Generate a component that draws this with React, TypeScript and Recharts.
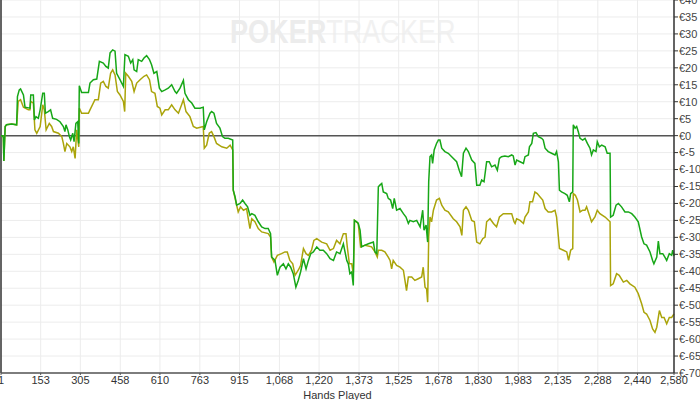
import React from "react";
import {
  LineChart, Line, XAxis, YAxis, CartesianGrid, ReferenceLine
} from "recharts";

// [hand, euros]
const netWon: [number, number][] = [
  [1, 0], [7, 0], [10, -0.5], [12, -7.5], [17, 2.7], [22, 3.2], [42, 3.4], [61, 3.2],
  [64, 11.5], [71, 13.5], [76, 13.8], [87, 12], [93, 8.4], [112, 8.1], [115, 12], [125, 12],
  [129, 4.6], [135, 5.6], [144, 5.1], [151, 7.6], [161, 12.5], [167, 12.5], [171, 6.6],
  [182, 7.1], [191, 7.6], [199, 5.1], [214, 4.8], [227, 4.1], [240, 2.7], [246, 1.2],
  [250, 3.2], [257, 1.7], [263, -0.3], [268, -1.3], [276, 0.7], [281, -1.8], [288, 3.6],
  [295, 4.1], [299, -2.3], [301, 14.7], [310, 12.7], [336, 12.7], [342, 15.5], [355, 16.5],
  [368, 16.7], [378, 21.9], [393, 21.4], [403, 20.4], [412, 19.9], [419, 24.4], [429, 25.3],
  [438, 24.9], [444, 18.4], [457, 16.5], [470, 14.5], [476, 23.9], [489, 23.4], [498, 21.4],
  [506, 22.4], [511, 19.4], [521, 18.9], [527, 22.4], [540, 21.9], [549, 22.9], [559, 23.6],
  [570, 22.4], [578, 20.9], [587, 18.4], [598, 18.9], [608, 14], [617, 13], [630, 13.5],
  [642, 14], [655, 15], [668, 13], [674, 12.5], [687, 14], [700, 16.3], [706, 12.5],
  [719, 10.6], [732, 9.6], [744, 8.1], [764, 8.1], [776, 8.4], [780, 1.7], [789, 4.1],
  [802, 6.6], [808, 7.1], [817, 6.6], [827, 3.6], [840, 2.2], [850, -0.3], [859, -0.8],
  [872, -0.8], [889, -1.3], [891, -16.1], [898, -18], [904, -20.5], [917, -20], [927, -19],
  [936, -20], [946, -21], [955, -23.5], [962, -23], [974, -23.5], [987, -25.4], [1000, -26.9],
  [1013, -27.4], [1025, -27.4], [1034, -28.9], [1038, -35.8], [1051, -36.8], [1060, -41.2],
  [1070, -38.8], [1083, -37.8], [1093, -39.3], [1102, -37.8], [1111, -38.8], [1121, -40.7],
  [1131, -44.7], [1140, -42.7], [1149, -40.2], [1160, -36.3], [1170, -39.3], [1179, -36.8],
  [1188, -34.8], [1198, -34.3], [1211, -32.8], [1223, -33.8], [1236, -33.8], [1249, -34.8],
  [1262, -36.3], [1275, -36.8], [1287, -34.3], [1300, -34.8], [1313, -31.9], [1326, -36.8],
  [1332, -37.8], [1338, -40.7], [1345, -40.2], [1351, -44.2], [1355, -25], [1364, -25.4],
  [1370, -25.9], [1377, -27.9], [1383, -32.8], [1396, -32.3], [1409, -31.9], [1428, -31.4],
  [1434, -34.3], [1441, -34.8], [1447, -15.1], [1453, -14.6], [1460, -14.1], [1466, -16.6],
  [1479, -17.1], [1485, -18.5], [1494, -19], [1502, -21.5], [1508, -18.5], [1517, -22],
  [1530, -21.5], [1543, -23], [1553, -24], [1562, -25.9], [1568, -25], [1581, -25.4],
  [1594, -25], [1607, -26.9], [1617, -22], [1622, -27.9], [1630, -26.4], [1636, -31.4],
  [1640, -13.6], [1645, -6.2], [1651, -5.7], [1655, -8.2], [1661, -4.2], [1670, -2.3],
  [1677, -1.3], [1683, -1.3], [1690, -3.7], [1702, -4.7], [1715, -5.2], [1728, -6.2],
  [1747, -7.7], [1757, -10.2], [1766, -12.1], [1773, -5.2], [1783, -3.7], [1792, -4.7],
  [1805, -7.2], [1817, -8.2], [1824, -14.6], [1836, -14.6], [1843, -13.1], [1852, -13.6],
  [1862, -7.7], [1872, -7.7], [1881, -9.2], [1894, -8.7], [1903, -10.2], [1911, -6.7],
  [1919, -6.2], [1932, -6], [1945, -6.2], [1958, -5.7], [1964, -6], [1971, -8.7],
  [1977, -7.2], [1990, -7.7], [2003, -8.2], [2009, -6.2], [2022, -5.7], [2026, -3.3],
  [2035, -2.3], [2041, 0.7], [2051, 0.9], [2060, -0.3], [2073, -0.8], [2079, -1.3],
  [2086, -3.7], [2098, -4.7], [2111, -5.2], [2124, -5.7], [2130, -4.7], [2137, -7.7],
  [2141, -16.1], [2149, -16.6], [2162, -17.1], [2171, -17.6], [2179, -19.5], [2184, -17.1],
  [2192, -16.6], [2194, 3.2], [2201, 2.2], [2207, 2.7], [2213, 1.2], [2220, -0.8],
  [2230, -1.3], [2239, -0.8], [2248, -2.3], [2258, -3.7], [2264, -5.7], [2271, -4.2],
  [2281, -4.7], [2286, -1.8], [2294, -3.3], [2303, -2.8], [2316, -3.3], [2324, -5.2],
  [2335, -5.2], [2337, -24], [2347, -23.5], [2358, -20.5], [2367, -20], [2379, -21],
  [2392, -22.5], [2405, -22.5], [2418, -23], [2430, -24], [2443, -25.4], [2456, -29.9],
  [2465, -31.9], [2475, -32.3], [2488, -34.3], [2498, -36.8], [2503, -37.8], [2514, -35.8],
  [2520, -31.1], [2526, -34.8], [2537, -34.8], [2545, -35.8], [2552, -36.8], [2562, -34.8],
  [2571, -35.3], [2575, -33.8], [2580, -35.5],
];

const allInAdj: [number, number][] = [
  [1, 0], [7, 0], [10, -0.5], [12, -7.5], [17, 2.7], [22, 3.2], [42, 3.4], [61, 3.2],
  [67, 10.1], [76, 10.6], [87, 8.4], [106, 7.6], [112, 7.6], [115, 10.1], [125, 9.6],
  [131, 1.7], [138, 0.7], [151, 2.7], [161, 9.1], [167, 7.6], [174, 1.7], [186, 3.6],
  [195, 2.7], [202, 1.2], [221, 0.7], [234, -0.3], [240, -2.3], [246, -4.7], [253, -2.3],
  [265, -3.3], [272, -4.7], [278, -3.3], [285, -6.7], [291, 1.7], [299, -3.3], [301, 8.1],
  [310, 6.6], [336, 6.6], [342, 7.6], [361, 10.6], [374, 10.6], [383, 15.5], [393, 16],
  [403, 14.5], [412, 14], [421, 18.4], [429, 19.4], [438, 17.9], [447, 13], [457, 12],
  [470, 10.1], [475, 7.1], [479, 18.4], [489, 17.5], [502, 16], [511, 13], [521, 15.5],
  [534, 16.5], [549, 17.5], [559, 17.9], [570, 16.5], [578, 13], [591, 12.5], [600, 8.6],
  [610, 8.1], [617, 6.1], [630, 7.6], [642, 7.6], [655, 9.1], [668, 7.6], [681, 6.6],
  [693, 9.1], [700, 10.6], [710, 7.1], [725, 5.6], [738, 2.7], [751, 2.2], [776, 2.7],
  [780, -3.7], [789, -2.8], [799, 0.7], [808, 1.2], [817, -0.3], [827, -2.3], [847, -3.3],
  [866, -3.7], [879, -2.8], [889, -4.2], [891, -16.1], [901, -19.5], [910, -22.5],
  [919, -21], [930, -22], [942, -21.5], [955, -27.4], [962, -24.5], [974, -25.4],
  [987, -27.4], [1000, -28.4], [1025, -28.9], [1034, -29.9], [1038, -35.8], [1047, -37.3],
  [1060, -35.3], [1076, -34.8], [1089, -34.3], [1098, -34.3], [1108, -36.8], [1119, -37.8],
  [1128, -41.2], [1140, -39.7], [1149, -38.3], [1160, -33.3], [1170, -34.8], [1179, -35.3],
  [1191, -33.8], [1200, -30.9], [1211, -30.4], [1230, -31.4], [1249, -31.9], [1262, -33.8],
  [1275, -33.3], [1287, -30.9], [1300, -31.9], [1313, -28.9], [1323, -28.9], [1328, -32.8],
  [1336, -37.8], [1345, -37.8], [1351, -40.7], [1356, -25], [1370, -25.9], [1379, -32.8],
  [1396, -32.3], [1421, -32.8], [1434, -34.3], [1443, -35.8], [1447, -33.8], [1460, -33.8],
  [1472, -34.3], [1485, -35.8], [1492, -36.8], [1498, -39.3], [1504, -36.8], [1517, -38.3],
  [1530, -38.8], [1543, -39.7], [1549, -42.7], [1555, -45.7], [1562, -41.7], [1575, -41.7],
  [1587, -42.7], [1600, -42.2], [1613, -41.7], [1619, -38.8], [1626, -44.7], [1632, -45.2],
  [1636, -49.1], [1640, -29.9], [1645, -24], [1651, -25.4], [1658, -22], [1670, -19],
  [1681, -18.5], [1690, -20.5], [1702, -22], [1715, -22.5], [1734, -24.5], [1747, -25.4],
  [1760, -26.9], [1767, -29.4], [1773, -22], [1783, -21], [1792, -22], [1805, -25],
  [1815, -25.4], [1824, -31.4], [1836, -31.9], [1847, -30.4], [1856, -29.9], [1862, -25.4],
  [1875, -24.5], [1888, -25.9], [1900, -26.9], [1911, -24], [1926, -23], [1945, -23],
  [1958, -23], [1967, -25.4], [1971, -25.9], [1977, -24.5], [1990, -25], [2003, -25.9],
  [2009, -24], [2022, -22.5], [2028, -19.5], [2038, -19.5], [2047, -16.6], [2056, -17.1],
  [2066, -18], [2077, -19], [2086, -21.5], [2098, -22.5], [2111, -22.5], [2124, -22],
  [2130, -24], [2141, -33.3], [2156, -33.8], [2169, -34.3], [2176, -36.8], [2184, -33.8],
  [2192, -33.3], [2194, -17.1], [2202, -17.6], [2210, -19], [2220, -22.5], [2230, -22],
  [2239, -22], [2245, -21], [2258, -24], [2264, -25.4], [2277, -24], [2286, -22],
  [2296, -23], [2316, -24], [2335, -25.4], [2337, -44.2], [2347, -43.7], [2360, -40.7],
  [2370, -41.2], [2386, -43.2], [2399, -42.7], [2411, -43.7], [2430, -44.7], [2443, -46.6],
  [2456, -49.6], [2465, -52.1], [2475, -52.6], [2488, -54.5], [2498, -57], [2507, -58],
  [2514, -56.5], [2524, -51.6], [2533, -53.6], [2542, -53.6], [2552, -55.5], [2562, -53.6],
  [2571, -53.6], [2580, -52.6],
];

const handTicks = [1, 153, 305, 458, 610, 763, 915, 1068, 1220, 1373, 1525, 1678, 1830, 1983, 2135, 2288, 2440, 2580];
const euroTicks = [40, 35, 30, 25, 20, 15, 10, 5, 0, -5, -10, -15, -20, -25, -30, -35, -40, -45, -50, -55, -60, -65, -70];

const toRows = (pts: [number, number][]) => pts.map(([hand, euros]) => ({ hand, euros }));

const font = "'Liberation Sans', Arial, sans-serif";

export default function App() {
  return (
    <div style={{ position: "absolute", left: 0, top: 0, width: 700, height: 400, background: "#fff", overflow: "hidden" }}>
      {/* watermark, sits behind the chart */}
      <div style={{
        position: "absolute", left: 230, top: 13, fontFamily: font, fontSize: 33,
        whiteSpace: "nowrap", transform: "scaleX(0.82)", transformOrigin: "left top",
      }}>
        <span style={{ fontWeight: "bold", color: "#ececec" }}>POKER</span>
        <span style={{ color: "#f1f1f1" }}>TRACKER</span>
      </div>
      <div style={{ position: "absolute", left: 0, top: 0 }}>
        <LineChart width={700} height={400} margin={{ top: 0, right: 0, left: 1, bottom: 0 }}>
          <CartesianGrid stroke="#ececec" strokeWidth={1} />
          <XAxis
            type="number"
            dataKey="hand"
            domain={[1, 2580]}
            ticks={handTicks}
            interval={0}
            height={27}
            axisLine={{ stroke: "#555", strokeWidth: 1.5 }}
            tickLine={{ stroke: "#555" }}
            tickSize={2}
            tickMargin={1}
            tickFormatter={(v: number) => v.toLocaleString("en-US")}
            tick={{ fontSize: 11, fill: "#333", fontFamily: font }}
            label={{ value: "Hands Played", position: "insideBottom", offset: 1, fontSize: 11, fill: "#333", fontFamily: font }}
          />
          <YAxis
            orientation="right"
            domain={[-70, 40]}
            ticks={euroTicks}
            interval={0}
            width={26}
            allowDataOverflow
            axisLine={{ stroke: "#333", strokeWidth: 1.5 }}
            tickLine={{ stroke: "#333" }}
            tickSize={4}
            tickMargin={1}
            tickFormatter={(v: number) => `€${v}`}
            tick={{ fontSize: 11, fill: "#444", fontFamily: font, textAnchor: "start" }}
          />
          <ReferenceLine x={1} stroke="#333" strokeWidth={1.5} />
          <ReferenceLine y={0} stroke="#555" strokeWidth={1.5} />
          <Line data={toRows(allInAdj)} dataKey="euros" type="linear" stroke="#aaa40a" strokeWidth={1.5} dot={false} isAnimationActive={false} />
          <Line data={toRows(netWon)} dataKey="euros" type="linear" stroke="#17a717" strokeWidth={1.5} dot={false} isAnimationActive={false} />
        </LineChart>
      </div>
    </div>
  );
}
